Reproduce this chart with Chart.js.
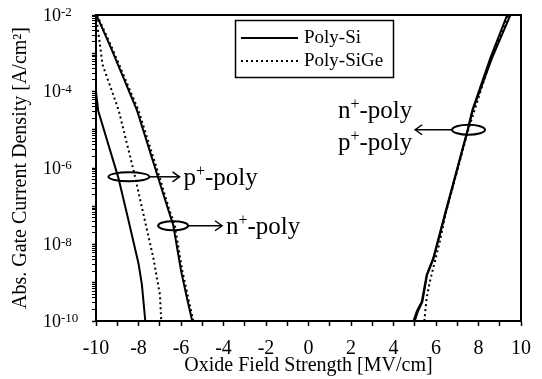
<!DOCTYPE html>
<html><head><meta charset="utf-8">
<script src="https://cdn.jsdelivr.net/npm/chart.js@4/dist/chart.umd.min.js"></script>
<style>html,body{margin:0;padding:0;background:#fff}#wrap{width:542px;height:379px}</style>
</head><body><div id="wrap"><canvas id="c" width="542" height="379"></canvas></div>
<script>
// ---- data ----
// Poly-Si, p+ gate, negative field
const siPNegField = [-10.0, -9.9, -8.95, -8.5, -8.0, -7.84, -7.68];
const siPNegJ     = [1e-4, 3.2e-5, 5.6e-7, 5.0e-8, 3.2e-9, 8.9e-10, 1e-10];
// Poly-SiGe, p+ gate, negative field
const sigePNegField = [-10.0, -9.69, -8.93, -8.22, -7.75, -7.3, -6.99, -6.93];
const sigePNegJ     = [1e-2, 5.0e-4, 3.2e-5, 8.1e-7, 5.6e-8, 4.4e-9, 4.8e-10, 1e-10];
// Poly-Si, n+ gate, negative field
const siNNegField = [-9.98, -9.3, -8.07, -7.07, -6.6, -6.37, -5.99, -5.68, -5.47];
const siNNegJ     = [1e-2, 1.4e-3, 3.2e-5, 5.5e-7, 8.1e-8, 3.3e-8, 1.95e-9, 3.2e-10, 1e-10];
// Poly-SiGe, n+ gate, negative field
const sigeNNegField = [-9.95, -9.25, -8.0, -7.0, -6.55, -6.3, -5.93, -5.62, -5.42];
const sigeNNegJ     = [1e-2, 1.4e-3, 3.2e-5, 5.5e-7, 8.1e-8, 3.3e-8, 1.95e-9, 3.2e-10, 1e-10];
// Poly-Si, n+ and p+ gates, positive field
const siNPosField = [4.94, 5.1, 5.33, 5.56, 5.87, 6.41, 7.49, 7.72, 8.56, 9.35];
const siNPosJ     = [1e-10, 1.8e-10, 3.2e-10, 1.6e-9, 4.4e-9, 6.0e-8, 1e-5, 3.4e-5, 7.6e-4, 1e-2];
const siPPosField = [5.0, 5.15, 5.36, 5.58, 5.89, 6.43, 7.5, 7.74, 8.64, 9.5];
const siPPosJ     = [1e-10, 1.8e-10, 3.2e-10, 1.6e-9, 4.4e-9, 6.0e-8, 1e-5, 3.4e-5, 7.6e-4, 1e-2];
// Poly-SiGe, positive field
const sigePosField = [5.45, 5.56, 5.71, 6.18, 6.45, 7.52, 8.6, 9.42];
const sigePosJ     = [1e-10, 4.0e-10, 1.07e-9, 1.2e-8, 6.3e-8, 1e-5, 7.6e-4, 1e-2];

const xTicks = [-10, -8, -6, -4, -2, 0, 2, 4, 6, 8, 10];
const yTickExps = [-2, -4, -6, -8, -10];
const legendLabels = ['Poly-Si', 'Poly-SiGe'];
const xTitle = 'Oxide Field Strength [MV/cm]';
const yTitle = 'Abs. Gate Current Density [A/cm²]';

// ---- build ----
const FONT = '"Liberation Serif", "Times New Roman", serif';
const pts = (xs, ys) => xs.map((x, i) => ({x, y: ys[i]}));
const solid = {borderColor: '#000', borderWidth: 2, pointRadius: 0, fill: false, tension: 0};
const dotted = {borderColor: '#000', borderWidth: 2, pointRadius: 0, fill: false, tension: 0, borderDash: [2, 3]};

const datasets = [
  Object.assign({label: 'Si p+ neg', data: pts(siPNegField, siPNegJ)}, solid),
  Object.assign({label: 'SiGe p+ neg', data: pts(sigePNegField, sigePNegJ)}, dotted),
  Object.assign({label: 'SiGe n+ neg', data: pts(sigeNNegField, sigeNNegJ)}, dotted),
  Object.assign({label: 'Si n+ neg', data: pts(siNNegField, siNNegJ)}, solid),
  Object.assign({label: 'SiGe pos', data: pts(sigePosField, sigePosJ)}, dotted),
  Object.assign({label: 'Si n+ pos', data: pts(siNPosField, siNPosJ)}, solid),
  Object.assign({label: 'Si p+ pos', data: pts(siPPosField, siPPosJ)}, solid),
];

// annotation placement (data coordinates of anchors)
const annots = [
  {cx: -8.45, cy: 10 ** -6.23, rx: 20.5, ry: 4.5, toX: -6.07, dir: 1, lines: [['p', '-poly']]},
  {cx: -6.37, cy: 10 ** -7.51, rx: 15, ry: 4.5, toX: -4.07, dir: 1, lines: [['n', '-poly']]},
  {cx: 7.53, cy: 10 ** -5.0, rx: 16.5, ry: 5, toX: 5.02, dir: -1, lines: [['n', '-poly'], ['p', '-poly']]},
];

function supText(ctx, x, y, base, rest, size, align) {
  const big = size + 'px ' + FONT, small = Math.round(size * 0.62) + 'px ' + FONT;
  ctx.font = big; const w1 = ctx.measureText(base).width; const w3 = ctx.measureText(rest).width;
  ctx.font = small; const w2 = ctx.measureText('+').width;
  const total = w1 + w2 + w3;
  let sx = align === 'right' ? x - total : x;
  ctx.textAlign = 'left'; ctx.textBaseline = 'alphabetic';
  ctx.font = big; ctx.fillText(base, sx, y);
  ctx.font = small; ctx.fillText('+', sx + w1, y - size * 0.36);
  ctx.font = big; ctx.fillText(rest, sx + w1 + w2, y);
}

const decor = {
  id: 'decor',
  afterDraw(chart) {
    const ctx = chart.ctx, a = chart.chartArea, xs = chart.scales.x, ys = chart.scales.y;
    ctx.save();
    ctx.strokeStyle = '#000'; ctx.fillStyle = '#000';
    // frame top/right
    ctx.lineWidth = 2;
    ctx.beginPath(); ctx.moveTo(a.left, a.top); ctx.lineTo(a.right, a.top); ctx.lineTo(a.right, a.bottom); ctx.stroke();
    // y tick labels 10^n
    yTickExps.forEach(e => {
      const y = ys.getPixelForValue(10 ** e);
      ctx.font = '18px ' + FONT; ctx.textAlign = 'left'; ctx.textBaseline = 'middle';
      ctx.fillText('10', 43, y + 1);
      const w = ctx.measureText('10').width;
      ctx.font = '13px ' + FONT; ctx.textBaseline = 'alphabetic';
      ctx.fillText(String(e), 43 + w, y + 1);
    });
    // legend
    ctx.lineWidth = 1.5;
    ctx.strokeRect(235.5, 20.5, 158, 57);
    ctx.lineWidth = 2;
    ctx.beginPath(); ctx.moveTo(241, 38); ctx.lineTo(298, 38); ctx.stroke();
    ctx.setLineDash([2, 3]);
    ctx.beginPath(); ctx.moveTo(241, 61); ctx.lineTo(298, 61); ctx.stroke();
    ctx.setLineDash([]);
    ctx.font = '19px ' + FONT; ctx.textAlign = 'left'; ctx.textBaseline = 'alphabetic';
    ctx.fillText(legendLabels[0], 304, 43);
    ctx.fillText(legendLabels[1], 304, 66);
    // annotations
    annots.forEach(an => {
      const cx = xs.getPixelForValue(an.cx), cy = ys.getPixelForValue(an.cy);
      ctx.lineWidth = 2;
      ctx.beginPath(); ctx.ellipse(cx, cy, an.rx, an.ry, 0, 0, Math.PI * 2); ctx.stroke();
      const x1 = cx + an.dir * an.rx, x2 = xs.getPixelForValue(an.toX);
      ctx.lineWidth = 1.5;
      ctx.beginPath(); ctx.moveTo(x1, cy); ctx.lineTo(x2, cy); ctx.stroke();
      const h = 7 * an.dir;
      ctx.beginPath(); ctx.moveTo(x2 - h, cy - 5); ctx.lineTo(x2, cy); ctx.lineTo(x2 - h, cy + 5); ctx.stroke();
      if (an.dir > 0) {
        supText(ctx, x2 + 4, cy + 8, an.lines[0][0], an.lines[0][1], 25, 'left');
      } else {
        supText(ctx, x2 - 3, cy - 12, an.lines[0][0], an.lines[0][1], 25, 'right');
        supText(ctx, x2 - 3, cy + 20, an.lines[1][0], an.lines[1][1], 25, 'right');
      }
    });
    ctx.restore();
  }
};

const yMinor = [];
for (let e = -10; e <= -2; e++) for (let m = 1; m <= 9; m++) { const v = m * 10 ** e; if (v <= 1.0001e-2) yMinor.push(v); }

new Chart(document.getElementById('c'), {
  type: 'line',
  data: {datasets},
  options: {
    responsive: false, animation: false, devicePixelRatio: 1,
    layout: {padding: {left: 0, top: 15, right: 13, bottom: 0}},
    plugins: {legend: {display: false}, tooltip: {enabled: false}},
    scales: {
      x: {
        type: 'linear', min: -10, max: 10,
        afterFit: s => { s.height = 58; },
        afterBuildTicks: s => { s.ticks = []; for (let v = -10; v <= 10; v++) s.ticks.push({value: v}); },
        ticks: {autoSkip: false, maxRotation: 0, padding: 11, color: '#000', font: {family: FONT, size: 20},
          callback: v => xTicks.includes(v) ? String(v) : ''},
        grid: {drawOnChartArea: false, drawTicks: true, tickLength: 5, tickColor: '#000', tickWidth: 1.5},
        border: {display: true, color: '#000', width: 2},
        title: {display: true, text: xTitle, color: '#000', font: {family: FONT, size: 20}, padding: {top: 0, bottom: 1}}
      },
      y: {
        type: 'logarithmic', min: 1e-10, max: 1e-2,
        afterFit: s => { s.width = 96; },
        afterBuildTicks: s => { s.ticks = yMinor.map(v => ({value: v})); },
        ticks: {autoSkip: false, color: '#000', callback: () => ''},
        grid: {drawOnChartArea: false, drawTicks: true, tickLength: 4, tickColor: '#000',
          tickWidth: c => { const l = Math.log10(c.tick ? c.tick.value : 1); return Math.abs(l - Math.round(l)) < 1e-6 ? 1.5 : 1; }},
        border: {display: true, color: '#000', width: 2},
        title: {display: true, text: yTitle, color: '#000', font: {family: FONT, size: 20}, padding: {top: 9, bottom: 0}}
      }
    }
  },
  plugins: [decor]
});
</script>
</body></html>
